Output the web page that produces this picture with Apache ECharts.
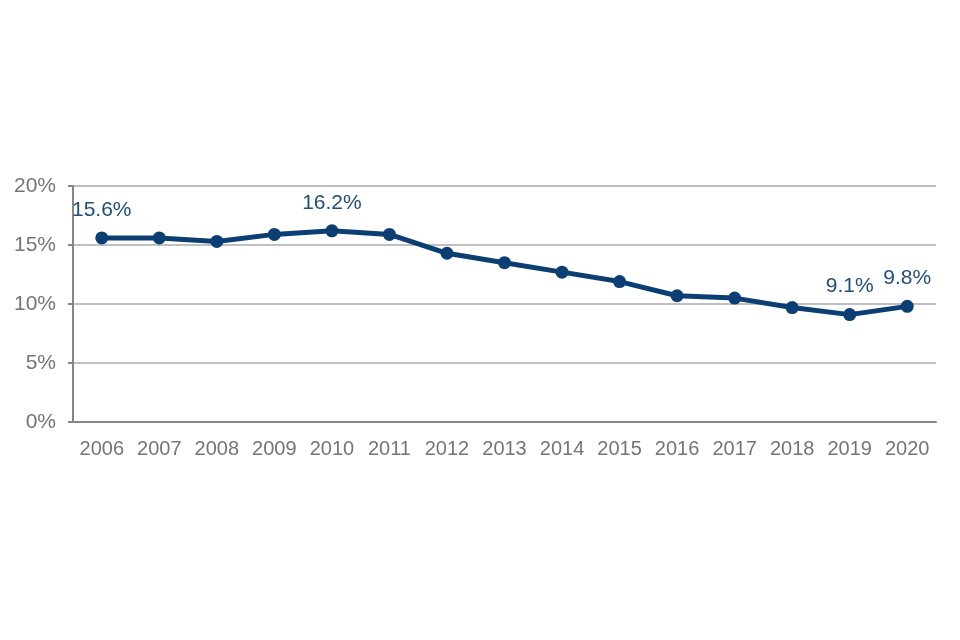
<!DOCTYPE html>
<html><head><meta charset="utf-8">
<script src="https://cdn.jsdelivr.net/npm/echarts@6/dist/echarts.min.js"></script>
<style>html,body{margin:0;padding:0;background:#fff}#c{width:960px;height:640px}</style>
</head><body><div id="c"></div>
<script>
const years = ['2006','2007','2008','2009','2010','2011','2012','2013','2014','2015','2016','2017','2018','2019','2020'];
const rates = [15.6,15.6,15.3,15.9,16.2,15.9,14.3,13.5,12.7,11.9,10.7,10.5,9.7,9.1,9.8];
const labelledYears = ['2006','2010','2019','2020'];
const yTicks = [0,5,10,15,20];

const chart = echarts.init(document.getElementById('c'));
const data = rates.map((v,i)=>({
  value:v,
  label:{show: labelledYears.includes(years[i])}
}));
chart.setOption({
  animation:false,
  textStyle:{fontFamily:'Liberation Sans, Arial, sans-serif'},
  grid:{left:73,right:24,top:186,bottom:218},
  xAxis:{
    type:'category',data:years,boundaryGap:true,
    axisLine:{lineStyle:{color:'#868686',width:2}},
    axisTick:{alignWithLabel:true,interval:0,length:5,lineStyle:{color:'#868686',width:2}},
    axisLabel:{color:'#757575',fontSize:20,margin:17,interval:0,hideOverlap:false}
  },
  yAxis:{
    type:'value',min:yTicks[0],max:yTicks[yTicks.length-1],interval:5,
    axisLine:{show:true,lineStyle:{color:'#868686',width:2}},
    axisTick:{show:true,length:5,lineStyle:{color:'#868686',width:2}},
    axisLabel:{color:'#757575',fontSize:21,margin:17,formatter:v=>v+'%'},
    splitLine:{lineStyle:{color:'#c0c0c0',width:2}}
  },
  series:[{
    type:'line',data:data,
    lineStyle:{color:'#0b3f73',width:5},
    itemStyle:{color:'#0b3f73'},
    symbol:'circle',symbolSize:13,
    label:{position:'top',distance:11,fontSize:21,color:'#1f4e7a',formatter:p=>p.value.toFixed(1)+'%'}
  }]
});
</script></body></html>
